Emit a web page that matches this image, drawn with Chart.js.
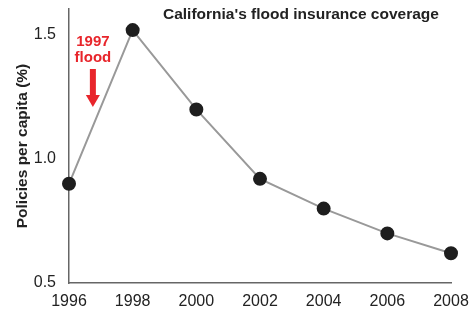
<!DOCTYPE html>
<html lang="en">
<head>
    <meta charset="UTF-8">
    <title>California's flood insurance coverage</title>
    <script src="https://cdn.jsdelivr.net/npm/chart.js"></script>
    <style>
        body { margin: 0; background: #fff; }
        #box { width: 470px; height: 313px; }
    </style>
</head>
<body>
    <div id="box"><canvas id="grafico"></canvas></div>
    <script>
        const anos = [1996, 1998, 2000, 2002, 2004, 2006, 2008];
        const apolices = [0.90, 1.52, 1.20, 0.92, 0.80, 0.70, 0.62];
        const ticksY = [0.5, 1.0, 1.5];

        const fonte = '"Liberation Sans", Arial, sans-serif';

        // titulo, rotulo do eixo y e a seta da enchente
        const anotacoes = {
            id: 'anotacoes',
            afterDraw(chart) {
                const ctx = chart.ctx;
                const area = chart.chartArea;
                ctx.save();
                ctx.fillStyle = '#222';
                ctx.font = 'bold 15.5px ' + fonte;
                ctx.textAlign = 'left';
                ctx.textBaseline = 'middle';
                ctx.fillText("California's flood insurance coverage", 163, 15);

                ctx.translate(23, (area.top + area.bottom) / 2);
                ctx.rotate(-Math.PI / 2);
                ctx.textAlign = 'center';
                ctx.fillText('Policies per capita (%)', 0, 0);
                ctx.restore();

                const x = chart.scales.x.getPixelForValue(1996.75);
                ctx.save();
                ctx.fillStyle = '#e8252b';
                ctx.font = 'bold 15px ' + fonte;
                ctx.textAlign = 'center';
                ctx.textBaseline = 'middle';
                ctx.fillText('1997', x, 42);
                ctx.fillText('flood', x, 58);
                ctx.fillRect(x - 3, 69, 6, 27);
                ctx.beginPath();
                ctx.moveTo(x - 7, 95);
                ctx.lineTo(x + 7, 95);
                ctx.lineTo(x, 107);
                ctx.closePath();
                ctx.fill();
                ctx.restore();
            }
        };

        new Chart(document.getElementById('grafico'), {
            type: 'line',
            data: {
                datasets: [{
                    data: anos.map((a, i) => ({ x: a, y: apolices[i] })),
                    borderColor: '#999',
                    borderWidth: 2,
                    pointRadius: 6,
                    pointBackgroundColor: '#1e1e1e',
                    pointBorderColor: '#1e1e1e',
                    tension: 0,
                    clip: false
                }]
            },
            options: {
                responsive: true,
                maintainAspectRatio: false,
                animation: false,
                layout: { padding: { top: 9, right: 19, left: 0, bottom: 0 } },
                plugins: { legend: { display: false }, tooltip: { enabled: false } },
                scales: {
                    x: {
                        type: 'linear',
                        min: 1996,
                        max: 2008,
                        afterFit(s) { s.height = 30; s.paddingLeft = 0; s.paddingRight = 0; },
                        grid: { display: false, drawTicks: false },
                        border: { display: true, color: '#666', width: 1.5 },
                        ticks: {
                            stepSize: 2,
                            padding: 9,
                            color: '#222',
                            font: { family: fonte, size: 16 },
                            callback: v => String(v)
                        }
                    },
                    y: {
                        min: 0.5,
                        max: 1.605,
                        afterFit(s) { s.width = 69; s.paddingTop = 0; s.paddingBottom = 0; },
                        afterBuildTicks(s) { s.ticks = ticksY.map(v => ({ value: v })); },
                        grid: { display: false, drawTicks: false },
                        border: { display: true, color: '#666', width: 1.5 },
                        ticks: {
                            padding: 13,
                            color: '#222',
                            font: { family: fonte, size: 16 },
                            callback: v => v.toFixed(1)
                        }
                    }
                }
            },
            plugins: [anotacoes]
        });
    </script>
</body>
</html>
